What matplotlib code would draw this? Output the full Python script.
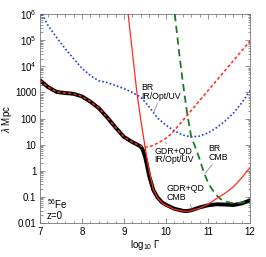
import numpy as np
import matplotlib
matplotlib.use("Agg")
import matplotlib.pyplot as plt
from matplotlib.ticker import FixedLocator, FuncFormatter, LogLocator, MultipleLocator

plt.rcParams['font.family'] = ['Liberation Sans', 'DejaVu Sans']
plt.rcParams['mathtext.fontset'] = 'custom'
plt.rcParams['mathtext.rm'] = 'Liberation Sans'
plt.rcParams['mathtext.it'] = 'Liberation Sans:italic'

# total (black), log10 of lambda in Mpc
x_total = [7.0, 7.2, 7.4, 7.6, 7.8, 8.0, 8.2, 8.4, 8.6, 8.8, 9.0, 9.2, 9.3, 9.4,
           9.45, 9.5, 9.55, 9.6, 9.7, 9.8, 9.9, 10.0, 10.2, 10.4, 10.5, 10.6,
           10.8, 11.0, 11.2, 11.4, 11.6, 11.8, 12.0]
ly_total = [3.47, 3.2, 3.02, 2.98, 2.95, 2.85, 2.65, 2.4, 2.05, 1.66, 1.3, 1.1,
            1.02, 0.93, 0.8, 0.55, 0.2, -0.2, -0.74, -1.02, -1.2, -1.3, -1.45,
            -1.53, -1.54, -1.51, -1.4, -1.32, -1.28, -1.29, -1.31, -1.25, -1.13]

# GDR+QD on IR/Opt/UV (red dashed)
x_gdr_ir = [7.0, 7.2, 7.4, 7.6, 7.8, 8.0, 8.2, 8.4, 8.6, 8.8, 9.0, 9.2, 9.3, 9.4,
            9.5, 9.6, 9.7, 9.8, 9.9, 10.0, 10.1, 10.2, 10.4, 10.6, 10.8, 11.0,
            11.2, 11.4, 11.6, 11.8, 12.0]
ly_gdr_ir = [3.47, 3.2, 3.02, 2.98, 2.95, 2.85, 2.65, 2.4, 2.05, 1.66, 1.3, 1.1,
             1.02, 0.95, 0.91, 0.92, 0.98, 1.06, 1.15, 1.25, 1.38, 1.55, 1.93,
             2.31, 2.69, 3.07, 3.45, 3.83, 4.21, 4.59, 4.97]

# GDR+QD on CMB (red solid)
x_gdr_cmb = [9.1, 9.2, 9.3, 9.4, 9.5, 9.55, 9.6, 9.7, 9.8, 9.9, 10.0, 10.2, 10.4,
             10.5, 10.6, 10.8, 11.0, 11.2, 11.4, 11.6, 11.8, 12.0]
ly_gdr_cmb = [6.0, 4.55, 3.1, 1.95, 0.95, 0.45, 0.0, -0.72, -1.03, -1.22, -1.33,
              -1.47, -1.54, -1.55, -1.52, -1.43, -1.28, -1.07, -0.86, -0.62,
              -0.27, 0.13]

# BR on IR/Opt/UV (blue dotted)
x_br_ir = [7.05, 7.2, 7.4, 7.6, 7.8, 8.0, 8.2, 8.4, 8.6, 8.8, 9.0, 9.2, 9.4, 9.6,
           9.8, 10.0, 10.2, 10.4, 10.6, 10.8, 11.0, 11.2, 11.4, 11.6, 11.8, 12.0]
ly_br_ir = [6.0, 5.55, 5.1, 4.68, 4.3, 3.93, 3.65, 3.45, 3.38, 3.27, 3.15, 3.0,
            2.82, 2.45, 2.02, 1.75, 1.53, 1.37, 1.3, 1.33, 1.45, 1.65, 1.9, 2.2,
            2.6, 3.07]

# BR on CMB (green dashed)
x_br_cmb = [10.21, 10.3, 10.4, 10.5, 10.6, 10.7, 10.8, 10.9, 11.0, 11.1, 11.2,
            11.3, 11.4, 11.6, 11.8, 12.0]
ly_br_cmb = [6.0, 4.7, 3.4, 2.25, 1.3, 0.9, 0.45, -0.05, -0.45, -0.72, -0.93,
             -1.08, -1.17, -1.24, -1.22, -1.13]

y_ticks = [1e-2, 1e-1, 1, 10, 100, 1000, 1e4, 1e5, 1e6]
y_ticklabels = ['0.01', '0.1', '1', '10', '100', '1000',
                '10$^4$', '10$^5$', '10$^6$']


def lam(ly):
    return 10.0 ** np.array(ly)


fig = plt.figure(figsize=(2.66, 2.57), dpi=100)
ax = fig.add_axes([0.150, 0.132, 0.790, 0.813])

ax.plot(x_total, lam(ly_total), color='black', lw=2.8, solid_capstyle='round', zorder=2)
ax.plot(x_br_ir, lam(ly_br_ir), color='#2238f0', lw=1.2, ls=(0, (1, 1.3)), zorder=3)
ax.plot(x_br_cmb, lam(ly_br_cmb), color='#1a7a2a', lw=1.3, ls=(0, (4, 2.5)), zorder=3)
ax.plot(x_gdr_ir, lam(ly_gdr_ir), color='#ff2a1a', lw=1.1, ls=(0, (2, 1.5)), zorder=4)
ax.plot(x_gdr_cmb, lam(ly_gdr_cmb), color='#ff2a1a', lw=0.9, zorder=4)

ax.set_yscale('log')
ax.set_xlim(7, 12)
ax.set_ylim(1e-2, 1e6)
ax.yaxis.set_major_locator(FixedLocator(y_ticks))
ax.set_yticklabels(y_ticklabels)
ax.yaxis.set_minor_locator(LogLocator(base=10, subs=np.arange(2, 10), numticks=20))
ax.yaxis.set_minor_formatter(FuncFormatter(lambda v, p: ''))
ax.xaxis.set_major_locator(MultipleLocator(1))
ax.xaxis.set_minor_locator(MultipleLocator(0.2))
ax.tick_params(which='both', direction='in', top=True, right=True, labelsize=7,
               width=0.5, color='#666666')
ax.tick_params(which='major', length=3.5, pad=2.5)
ax.tick_params(which='minor', length=1.8)
for s in ax.spines.values():
    s.set_linewidth(0.6)
    s.set_color('#777777')

ax.set_xlabel(r'log$_{10}$ $\Gamma$', fontsize=7, labelpad=1)
ax.set_ylabel(r'$\lambda$ Mpc', fontsize=7, labelpad=1)

fs = 6.3


def label(txt, xy, xytext, rel):
    ax.annotate(txt, xy=xy, xytext=xytext, fontsize=fs, va='top', ha='left',
                linespacing=0.95,
                arrowprops=dict(arrowstyle='-', color='#777777', lw=0.5,
                                shrinkA=0, shrinkB=0, relpos=rel))


label('BR\nIR/Opt/UV', (9.71, 10 ** 2.25), (9.40, 10 ** 3.36), (0.45, 0.0))
label('GDR+QD\nIR/Opt/UV', (9.99, 10 ** 1.11), (9.72, 10 ** 0.92), (0.34, 1.0))
label('BR\nCMB', (10.93, 10 ** -0.10), (11.00, 10 ** 1.02), (0.33, 0.0))
label('GDR+QD\nCMB', (10.61, 10 ** -1.44), (10.02, 10 ** -0.51), (0.6, 0.0))

ax.text(7.16, 10 ** -1.0, '$^{56}$Fe\nz=0', fontsize=7, va='top', ha='left',
        linespacing=1.0)

fig.savefig('out.png', dpi=100)
